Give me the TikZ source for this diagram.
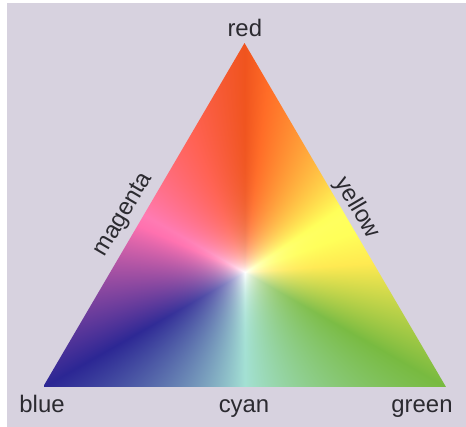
\documentclass[tikz,border=0pt]{standalone}
\usepackage{fontspec}
\setmainfont{Liberation Sans}
\usepackage{tikz}
\usetikzlibrary{positioning}
\definecolor{paper}{HTML}{D7D2DF}
\definecolor{inkgray}{HTML}{2B2A30}

% colour triangle: barycentric mix of the three corner colours, white in the middle
\pgfdeclarefunctionalshading{rgbtri}{\pgfpointorigin}{\pgfpoint{285.59bp}{243.78bp}}{}{
  243.78 div exch 285.59 div 1 index 2 div sub
  2 copy add 1 exch sub
  3 copy 2 copy lt {exch} if pop 2 copy lt {exch} if pop
  3 index 1 index div 3 index 2 index div 3 index 3 index div
  7 -4 roll pop pop pop pop
  3 copy 2 copy gt {exch} if pop 2 copy gt {exch} if pop
  3 index 1 index sub 3 index 2 index sub 3 index 3 index sub
  7 -3 roll pop pop pop
  4 -1 roll dup dup dup mul add 1 add
  5 -1 roll 1 index mul 5 -1 roll 2 index mul 5 -1 roll 3 index mul
  4 -1 roll pop 4 -1 roll dup dup mul mul 4 1 roll
  2 index 0.94 mul 2 index 0.47 mul add 1 index 0.17 mul add 4 index add
  3 index 0.33 mul 3 index 0.73 mul add 2 index 0.15 mul add 5 index add
  4 index 0.12 mul 4 index 0.25 mul add 3 index 0.58 mul add 6 index add
  7 -4 roll pop pop pop pop
}

\begin{document}
\begin{tikzpicture}[
  corner/.style={font=\fontsize{17}{20}\selectfont, text=inkgray, anchor=base, inner sep=0pt},
  side/.style={font=\fontsize{17}{20}\selectfont, text=inkgray, inner sep=0pt}
]
  \useasboundingbox (0,0) rectangle (11.65,10.675);
  \fill[paper] (0.175,0) rectangle (11.65,10.6);

  % Corners
  \coordinate (B) at (1.075,1.0);
  \coordinate (G) at (11.15,1.0);
  \coordinate (R) at (6.1125,9.6);

  % Shaded triangle
  \begin{scope}
    \clip (B) -- (G) -- (R) -- cycle;
    \node[inner sep=0pt, anchor=south west] (tri) at (B) {\pgfuseshading{rgbtri}};
  \end{scope}

  % Labels
  \node[corner] (red) at (6.12,9.75) {red};
  \node[corner] (blue) at (1.05,0.35) {blue};
  \node[corner] (cyan) at (6.1,0.35) {cyan};
  \node[corner] (green) at (10.55,0.35) {green};
  \node[side, rotate=59.6] (magenta) at (3.1,5.3) {magenta};
  \node[side, rotate=-59.6] (yellow) at (8.925,5.475) {yellow};
\end{tikzpicture}
\end{document}
